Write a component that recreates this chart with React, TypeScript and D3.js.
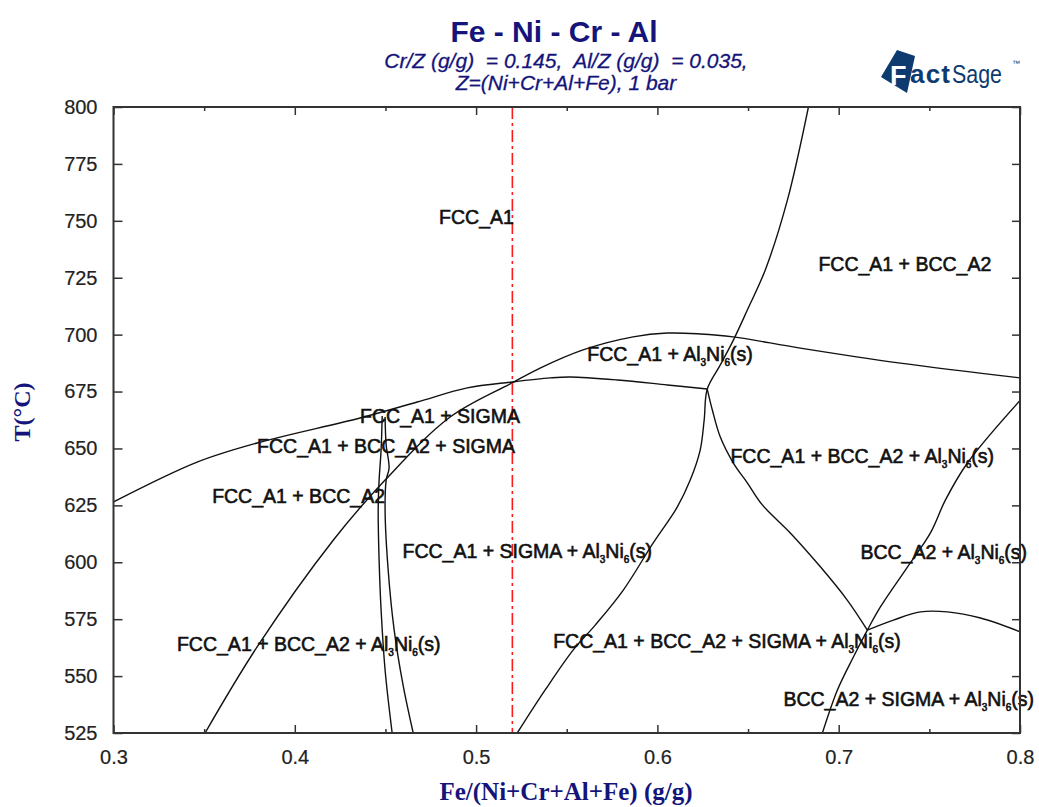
import React, { useEffect, useRef } from 'react';
import * as d3 from 'd3';

// axis ticks
const xMajorTicks = [0.3, 0.4, 0.5, 0.6, 0.7, 0.8];
const xMinorTicks = [0.35, 0.45, 0.55, 0.65, 0.75];
const yTicks = [525, 550, 575, 600, 625, 650, 675, 700, 725, 750, 775, 800];
const isoplethX = 0.52;

// phase boundaries, [Fe/(Ni+Cr+Al+Fe), T(C)]
const fccSigmaLine: [number, number][] = [
  [0.3, 626.5], [0.3461, 644.0], [0.3792, 652.4], [0.436, 663.4], [0.4675, 670.4],
  [0.4951, 676.6], [0.5199, 679.2], [0.5409, 681.0], [0.5519, 681.4], [0.5779, 680.1],
  [0.6055, 677.9], [0.6275, 676.1],
];
const al3ni6Line: [number, number][] = [
  [0.3505, 525.0], [0.3792, 562.8], [0.4213, 609.8], [0.4498, 636.1], [0.4857, 663.8],
  [0.5199, 678.8], [0.5353, 685.3], [0.559, 693.3], [0.5866, 699.0], [0.6054, 700.7],
  [0.6236, 700.3], [0.6418, 699.0], [0.6788, 694.1], [0.734, 687.5], [0.8002, 681.0],
];
const sigmaLeft: [number, number][] = [
  [0.4482, 664.3], [0.4476, 649.3], [0.4465, 636.1], [0.446, 622.9], [0.4465, 601.0],
  [0.4476, 579.0], [0.4498, 552.7], [0.4537, 525.0],
];
const sigmaRight: [number, number][] = [
  [0.4498, 663.8], [0.4504, 651.5], [0.452, 641.4], [0.4504, 636.1], [0.4498, 622.9],
  [0.4515, 596.6], [0.4548, 570.3], [0.4597, 546.1], [0.4653, 525.0],
];
const bccLine: [number, number][] = [
  [0.6833, 800], [0.6717, 759.1], [0.6595, 728.4], [0.6496, 710.8], [0.6419, 697.6],
  [0.6347, 686.7], [0.6275, 676.1], [0.6258, 662.5], [0.6236, 649.3], [0.6181, 636.1],
  [0.611, 624.3], [0.5977, 608.5], [0.5812, 587.8], [0.5657, 572.4], [0.5536, 561.5],
  [0.5381, 543.9], [0.5227, 525.0],
];
const fccEndLine: [number, number][] = [
  [0.6275, 676.1], [0.6303, 666.9], [0.6347, 655.0], [0.6419, 643.6], [0.6496, 634.9],
  [0.6579, 625.2], [0.6733, 612.9], [0.6899, 598.0], [0.7047, 583.4], [0.7158, 570.2],
];
const sigmaBccLine: [number, number][] = [
  [0.8003, 671.3], [0.771, 643.6], [0.7589, 627.4], [0.7506, 612.9], [0.7379, 597.9],
  [0.723, 580.4], [0.7158, 570.2], [0.7081, 558.4], [0.6993, 543.9], [0.691, 525.0],
];
const fccBccTop: [number, number][] = [
  [0.7158, 570.2], [0.7302, 574.6], [0.7451, 578.2], [0.76, 578.2], [0.7782, 575.5],
  [0.8003, 569.4],
];
const boundaries = [
  fccSigmaLine, al3ni6Line, sigmaLeft, sigmaRight, bccLine, fccEndLine, sigmaBccLine, fccBccTop,
];

// phase field labels, "_3" style digits are subscripts
const phaseLabels = [
  { text: 'FCC_A1', x: 0.4796, t: 748.6 },
  { text: 'FCC_A1 + BCC_A2', x: 0.6888, t: 728.0 },
  { text: 'FCC_A1 + Al_3Ni_6(s)', x: 0.5613, t: 688.4 },
  { text: 'FCC_A1 + SIGMA', x: 0.436, t: 661.2 },
  { text: 'FCC_A1 + BCC_A2 + SIGMA', x: 0.3792, t: 648.0 },
  { text: 'FCC_A1 + BCC_A2', x: 0.3544, t: 626.0 },
  { text: 'FCC_A1 + SIGMA + Al_3Ni_6(s)', x: 0.4594, t: 601.9 },
  { text: 'FCC_A1 + BCC_A2 + Al_3Ni_6(s)', x: 0.6403, t: 643.6 },
  { text: 'BCC_A2 + Al_3Ni_6(s)', x: 0.712, t: 601.4 },
  { text: 'FCC_A1 + BCC_A2 + SIGMA + Al_3Ni_6(s)', x: 0.5425, t: 562.4 },
  { text: 'FCC_A1 + BCC_A2 + Al_3Ni_6(s)', x: 0.335, t: 561.0 },
  { text: 'BCC_A2 + SIGMA + Al_3Ni_6(s)', x: 0.6695, t: 536.9 },
];

const W = 1039;
const H = 807;
const L = 113.5, R = 1020, T = 107, B = 733;
const navy = '#14147a';
const sans = 'Liberation Sans, Arial, sans-serif';
const serif = 'Liberation Serif, Times New Roman, serif';

const x = d3.scaleLinear().domain([0.3, 0.8]).range([L, R]);
const y = d3.scaleLinear().domain([525, 800]).range([B, T]);
const line = d3.line<[number, number]>()
  .x(d => x(d[0]))
  .y(d => y(d[1]))
  .curve(d3.curveCatmullRom.alpha(0.5));

function PhaseLabel({ text, px, py }: { text: string; px: number; py: number }) {
  const parts = text.split(/_(\d)/);
  const spans: React.ReactNode[] = [];
  let shifted = false;
  parts.forEach((p, i) => {
    if (i % 2 === 1) {
      spans.push(<tspan key={i} dy={5} fontSize={10}>{p}</tspan>);
      shifted = true;
    } else if (p) {
      spans.push(<tspan key={i} dy={shifted ? -5 : 0}>{p}</tspan>);
      shifted = false;
    }
  });
  return (
    <text x={px} y={py} fontFamily={sans} fontSize={19.5} fill="#111" stroke="#111" strokeWidth={0.6}
      style={{ whiteSpace: 'pre' }}>
      {spans}
    </text>
  );
}

export default function App() {
  const bottomRef = useRef<SVGGElement>(null);
  const topRef = useRef<SVGGElement>(null);
  const leftRef = useRef<SVGGElement>(null);
  const rightRef = useRef<SVGGElement>(null);

  useEffect(() => {
    const styleAxis = (g: d3.Selection<SVGGElement, unknown, null, undefined>) => {
      g.select('.domain').remove();
      g.selectAll('line').attr('stroke', '#333').attr('stroke-width', 1.5);
      g.selectAll('text').attr('font-family', sans).attr('font-size', 20).attr('fill', '#222')
        .attr('stroke', '#222').attr('stroke-width', 0.2);
    };

    const bottom = d3.select(bottomRef.current!);
    bottom.selectAll('*').remove();
    bottom.append('g')
      .call(d3.axisBottom(x).tickValues(xMajorTicks).tickSizeInner(-8).tickSizeOuter(0)
        .tickPadding(17).tickFormat(d3.format('.1f')))
      .call(styleAxis);
    bottom.append('g')
      .call(d3.axisBottom(x).tickValues(xMinorTicks).tickSizeInner(-4).tickSizeOuter(0).tickFormat(() => ''))
      .call(styleAxis);

    const top = d3.select(topRef.current!);
    top.selectAll('*').remove();
    top.append('g')
      .call(d3.axisTop(x).tickValues(xMajorTicks).tickSizeInner(-8).tickSizeOuter(0).tickFormat(() => ''))
      .call(styleAxis);
    top.append('g')
      .call(d3.axisTop(x).tickValues(xMinorTicks).tickSizeInner(-4).tickSizeOuter(0).tickFormat(() => ''))
      .call(styleAxis);

    const left = d3.select(leftRef.current!);
    left.selectAll('*').remove();
    left.append('g')
      .call(d3.axisLeft(y).tickValues(yTicks).tickSizeInner(-9).tickSizeOuter(0).tickPadding(16))
      .call(styleAxis);

    const right = d3.select(rightRef.current!);
    right.selectAll('*').remove();
    right.append('g')
      .call(d3.axisRight(y).tickValues(yTicks).tickSizeInner(-8).tickSizeOuter(0).tickFormat(() => ''))
      .call(styleAxis);
  }, []);

  return (
    <svg width={W} height={H} style={{ position: 'absolute', left: 0, top: 0, background: '#fff' }}>
      <defs>
        <clipPath id="plot">
          <rect x={L} y={T} width={R - L} height={B - T} />
        </clipPath>
      </defs>

      <text x={554} y={42} textAnchor="middle" fontFamily={sans} fontWeight="bold" fontSize={30} fill={navy}>
        Fe - Ni - Cr - Al
      </text>
      <text x={566} y={68} textAnchor="middle" fontFamily={sans} fontStyle="italic" fontSize={21} fill={navy}
        stroke={navy} strokeWidth={0.3} style={{ whiteSpace: 'pre' }}>
        {'Cr/Z (g/g)  = 0.145,  Al/Z (g/g)  = 0.035,'}
      </text>
      <text x={566} y={90} textAnchor="middle" fontFamily={sans} fontStyle="italic" fontSize={21} fill={navy}
        stroke={navy} strokeWidth={0.3}>
        Z=(Ni+Cr+Al+Fe), 1 bar
      </text>

      {/* FactSage logo */}
      <g fill="#0d3b70">
        <polygon points="897,50 915,56 907,93 881,77" />
        <text x={890} y={85} fontFamily={sans} fontWeight="bold" fontSize={27} fill="#fff">F</text>
        <text x={910} y={83} fontFamily={sans} fontWeight="bold" fontSize={26} textLength={40}>act</text>
        <text x={952} y={83} fontFamily={sans} fontSize={26} textLength={50} lengthAdjust="spacingAndGlyphs">Sage</text>
        <text x={1012} y={66} fontFamily={sans} fontSize={8}>™</text>
      </g>

      <g clipPath="url(#plot)">
        {boundaries.map((b, i) => (
          <path key={i} d={line(b) ?? ''} fill="none" stroke="#111" strokeWidth={1.4} />
        ))}
        <line x1={x(isoplethX)} x2={x(isoplethX)} y1={y(800)} y2={y(525)}
          stroke="#ff1a1a" strokeWidth={1.6} strokeDasharray="12,4,3,4" />
      </g>

      {phaseLabels.map((l, i) => (
        <PhaseLabel key={i} text={l.text} px={x(l.x)} py={y(l.t)} />
      ))}

      <rect x={L} y={T} width={R - L} height={B - T} fill="none" stroke="#333" strokeWidth={2} />
      <g ref={bottomRef} transform={`translate(0,${B})`} />
      <g ref={topRef} transform={`translate(0,${T})`} />
      <g ref={leftRef} transform={`translate(${L},0)`} />
      <g ref={rightRef} transform={`translate(${R},0)`} />

      <text transform={`translate(30,412) rotate(-90)`} textAnchor="middle" fontFamily={serif} fontWeight="bold"
        fontSize={24} fill={navy}>
        T(°C)
      </text>
      <text x={566} y={800} textAnchor="middle" fontFamily={serif} fontWeight="bold" fontSize={25} fill={navy}>
        Fe/(Ni+Cr+Al+Fe) (g/g)
      </text>
    </svg>
  );
}
